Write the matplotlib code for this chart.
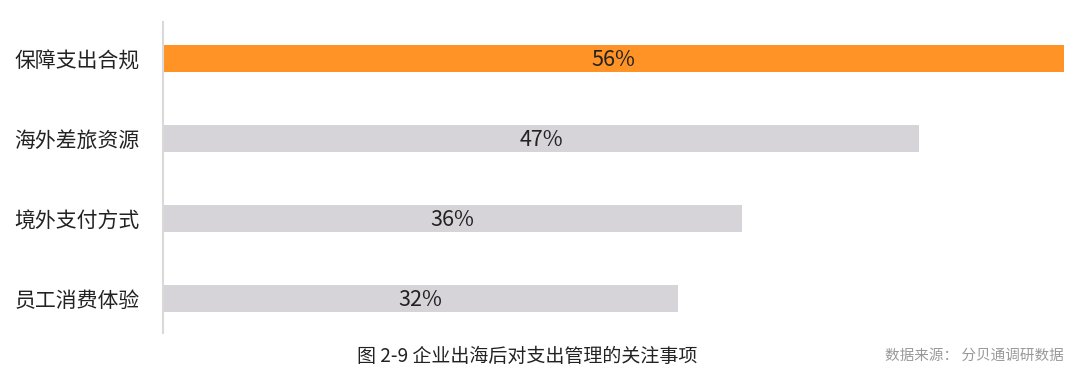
import matplotlib
import matplotlib.pyplot as plt

matplotlib.use("Agg")
plt.rcParams["font.family"] = ["Noto Sans CJK SC", "DejaVu Sans"]

categories = ["保障支出合规", "海外差旅资源", "境外支付方式", "员工消费体验"]
values = [56, 47, 36, 32]
colors = ["#FF9326", "#D6D4D9", "#D6D4D9", "#D6D4D9"]

fig = plt.figure(figsize=(10.8, 3.82), dpi=100)
ax = fig.add_axes([163 / 1080, 1 - 333 / 382, (1064 - 163) / 1080, 311 / 382])

y = range(len(categories))
ax.barh(y, values, height=0.34, color=colors)
for yi, v in zip(y, values):
    ax.text(v / 2, yi + 0.02, f"{v}%", ha="center", va="center", fontsize=15.5,
            fontweight="light", color="#222222")

ax.set_xlim(0, 56)
ax.set_ylim(3.43, -0.46)
ax.set_yticks(list(y))
ax.set_yticklabels(categories, fontsize=15, color="#222222")
ax.tick_params(axis="y", length=0, pad=17)
ax.set_xticks([])
for s in ["top", "right", "bottom"]:
    ax.spines[s].set_visible(False)
ax.spines["left"].set_color("#D9D9D9")
ax.spines["left"].set_linewidth(1.5)

fig.text(357 / 1080, 1 - 356 / 382, "图 2-9 企业出海后对支出管理的关注事项",
         fontsize=13.7, fontweight="medium", color="#222222", va="center")
fig.text(1064 / 1080, 1 - 356 / 382, "数据来源： 分贝通调研数据",
         fontsize=10.5, color="#999999", va="center", ha="right")

fig.savefig("out.png", dpi=100)
